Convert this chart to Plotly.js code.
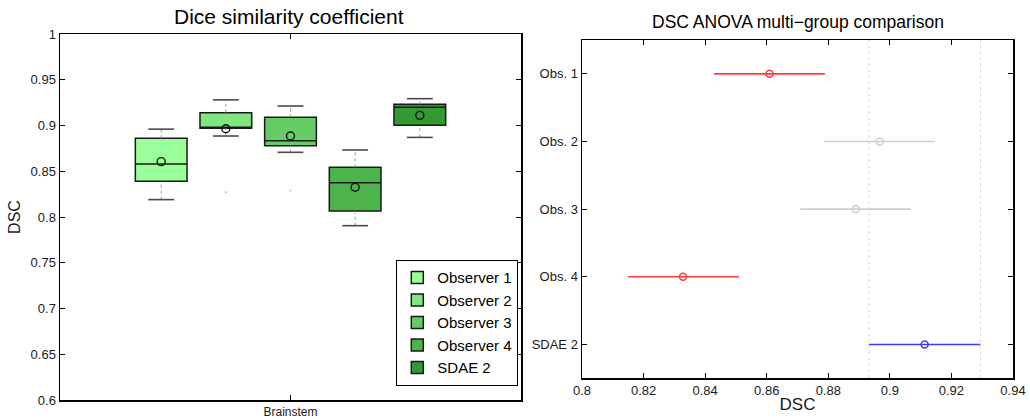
<!DOCTYPE html>
<html>
<head>
<meta charset="utf-8">
<script src="https://cdn.plot.ly/plotly-3.0.1.min.js"></script>
<style>html,body{margin:0;padding:0;background:#fff;}#chart{width:1030px;height:419px;}</style>
</head>
<body>
<div id="chart"></div>
<script>
// ---- Left: box plot data (Dice similarity coefficient, Brainstem) ----
const groups   = ['Observer 1', 'Observer 2', 'Observer 3', 'Observer 4', 'SDAE 2'];
const q1       = [0.839, 0.897, 0.878, 0.8066, 0.9002];
const medians  = [0.858, 0.8975, 0.8834, 0.8375, 0.920];
const q3       = [0.886, 0.914, 0.909, 0.8543, 0.9232];
const whiskLo  = [0.819, 0.8885, 0.8707, 0.7905, 0.887];
const whiskHi  = [0.896, 0.928, 0.9213, 0.8732, 0.9293];
const means    = [0.8605, 0.8965, 0.8885, 0.8325, 0.9111];
const outliers = [[], [0.827], [0.829], [], []];
const leftCategory = ['Brainstem'];
const leftYTicks = [0.6, 0.65, 0.7, 0.75, 0.8, 0.85, 0.9, 0.95, 1];
const leftYTickText = ['0.6', '0.65', '0.7', '0.75', '0.8', '0.85', '0.9', '0.95', '1'];

// ---- Right: ANOVA multi-group comparison ----
const cmpLabels = ['Obs. 1', 'Obs. 2', 'Obs. 3', 'Obs. 4', 'SDAE 2'];
const cmpMean   = [0.8609, 0.8967, 0.8889, 0.8328, 0.9113];
const cmpLo     = [0.8429, 0.8787, 0.8709, 0.8150, 0.8932];
const cmpHi     = [0.8789, 0.9147, 0.9069, 0.8510, 0.9294];
const rightXTicks = [0.8, 0.82, 0.84, 0.86, 0.88, 0.9, 0.92, 0.94];
const rightXTickText = ['0.8', '0.82', '0.84', '0.86', '0.88', '0.9', '0.92', '0.94'];

// styles
const boxFill = ['#99ff99', '#80e680', '#66cc66', '#4db34d', '#339933'];
const cmpColor = ['#ff3b3b', '#cfcfcf', '#cfcfcf', '#ff3b3b', '#3b3bff'];
const FONT = 'Liberation Sans, Arial, Helvetica, sans-serif';

const traces = [];
const pos = groups.map((g, i) => i + 1);
const capHalf = 0.2;

// boxes
groups.forEach((g, i) => {
  traces.push({
    type: 'box', name: g, x: [pos[i]],
    q1: [q1[i]], median: [medians[i]], q3: [q3[i]],
    lowerfence: [q1[i]], upperfence: [q3[i]],
    width: 0.8, whiskerwidth: 0, boxpoints: false,
    fillcolor: boxFill[i], line: {color: '#1a1a1a', width: 1.5},
    xaxis: 'x', yaxis: 'y', hoverinfo: 'skip', showlegend: true
  });
});

// whiskers (dotted)
const wx = [], wy = [];
pos.forEach((p, i) => {
  wx.push(p, p, null, p, p, null);
  wy.push(q3[i], whiskHi[i], null, whiskLo[i], q1[i], null);
});
traces.push({type: 'scatter', mode: 'lines', x: wx, y: wy, xaxis: 'x', yaxis: 'y',
  line: {color: '#9a9a9a', width: 1, dash: 'dot'}, showlegend: false, hoverinfo: 'skip'});

// caps
const cx = [], cy = [];
pos.forEach((p, i) => {
  cx.push(p - capHalf, p + capHalf, null, p - capHalf, p + capHalf, null);
  cy.push(whiskHi[i], whiskHi[i], null, whiskLo[i], whiskLo[i], null);
});
traces.push({type: 'scatter', mode: 'lines', x: cx, y: cy, xaxis: 'x', yaxis: 'y',
  line: {color: '#4a4a4a', width: 1.6}, showlegend: false, hoverinfo: 'skip'});

// outliers
const ox = [], oy = [];
outliers.forEach((arr, i) => arr.forEach(v => { ox.push(pos[i]); oy.push(v); }));
traces.push({type: 'scatter', mode: 'markers', x: ox, y: oy, xaxis: 'x', yaxis: 'y',
  marker: {color: '#d0d0d0', size: 2.5, symbol: 'circle'}, showlegend: false, hoverinfo: 'skip'});

// means
traces.push({type: 'scatter', mode: 'markers', x: pos, y: means, xaxis: 'x', yaxis: 'y',
  marker: {symbol: 'circle-open', color: '#111', size: 8, line: {width: 1.4}},
  showlegend: false, hoverinfo: 'skip'});

// right: comparison intervals
cmpLabels.forEach((lab, i) => {
  traces.push({
    type: 'scatter', mode: 'markers', x: [cmpMean[i]], y: [i + 1],
    xaxis: 'x2', yaxis: 'y2', showlegend: false, hoverinfo: 'skip',
    marker: {symbol: 'circle-open', color: cmpColor[i], size: 7, line: {width: 1.5}},
    error_x: {type: 'data', symmetric: false,
      array: [cmpHi[i] - cmpMean[i]], arrayminus: [cmpMean[i] - cmpLo[i]],
      color: cmpColor[i], thickness: 1.6, width: 0}
  });
});

const ref = cmpLabels.length - 1;
const shapes = [cmpLo[ref], cmpHi[ref]].map(v => ({
  type: 'line', xref: 'x2', yref: 'y2 domain', x0: v, x1: v, y0: 0, y1: 1,
  line: {color: '#d4d4d4', width: 1, dash: 'dot'}, layer: 'below'
}));

const axBase = {showline: true, linecolor: '#000', linewidth: 1.5, mirror: 'ticks',
  ticks: 'inside', ticklen: 5, tickwidth: 1, tickcolor: '#000', showgrid: false,
  zeroline: false, fixedrange: true};

const layout = {
  width: 1030, height: 419,
  margin: {l: 0, r: 0, t: 0, b: 0},
  paper_bgcolor: '#fff', plot_bgcolor: '#fff',
  font: {family: FONT, color: '#1a1a1a'},
  showlegend: true,
  boxmode: 'overlay',
  xaxis: Object.assign({}, axBase, {
    domain: [60 / 1030, 521 / 1030], range: [-0.565, 6.565],
    tickvals: [3], ticktext: leftCategory, tickfont: {size: 12, family: FONT}
  }),
  yaxis: Object.assign({}, axBase, {
    domain: [19 / 419, 385 / 419], range: [0.6, 1],
    tickvals: leftYTicks, ticktext: leftYTickText, tickfont: {size: 13, family: FONT},
    title: {text: 'DSC', font: {size: 16, family: FONT}, standoff: 6}
  }),
  xaxis2: Object.assign({}, axBase, {
    domain: [582 / 1030, 1013 / 1030], range: [0.8, 0.94], anchor: 'y2',
    tickvals: rightXTicks, ticktext: rightXTickText, tickfont: {size: 13, family: FONT},
    title: {text: 'DSC', font: {size: 17, family: FONT}, standoff: 0}
  }),
  yaxis2: Object.assign({}, axBase, {
    domain: [(419 - 378.3) / 419, (419 - 40) / 419], range: [5.5, 0.5], anchor: 'x2',
    tickvals: cmpLabels.map((l, i) => i + 1), ticktext: cmpLabels,
    tickfont: {size: 13, family: FONT}
  }),
  legend: {
    x: 518 / 1030, xanchor: 'right', y: (419 - 386) / 419, yanchor: 'bottom',
    bgcolor: '#fff', bordercolor: '#000', borderwidth: 1.3,
    font: {size: 15, family: FONT, color: '#000'}, tracegroupgap: 0,
    itemclick: false, itemdoubleclick: false
  },
  shapes: shapes,
  annotations: [
    {text: 'Dice similarity coefficient', xref: 'paper', yref: 'paper',
     x: 289 / 1030, y: (419 - 16) / 419, xanchor: 'center', yanchor: 'middle',
     showarrow: false, font: {size: 21, family: FONT, color: '#000'}},
    {text: 'DSC ANOVA multi\u2212group comparison', xref: 'paper', yref: 'paper',
     x: 798 / 1030, y: (419 - 22.5) / 419, xanchor: 'center', yanchor: 'middle',
     showarrow: false, font: {size: 17.5, family: FONT, color: '#000'}}
  ]
};

Plotly.newPlot('chart', traces, layout, {staticPlot: true, displayModeBar: false});
</script>
</body>
</html>
